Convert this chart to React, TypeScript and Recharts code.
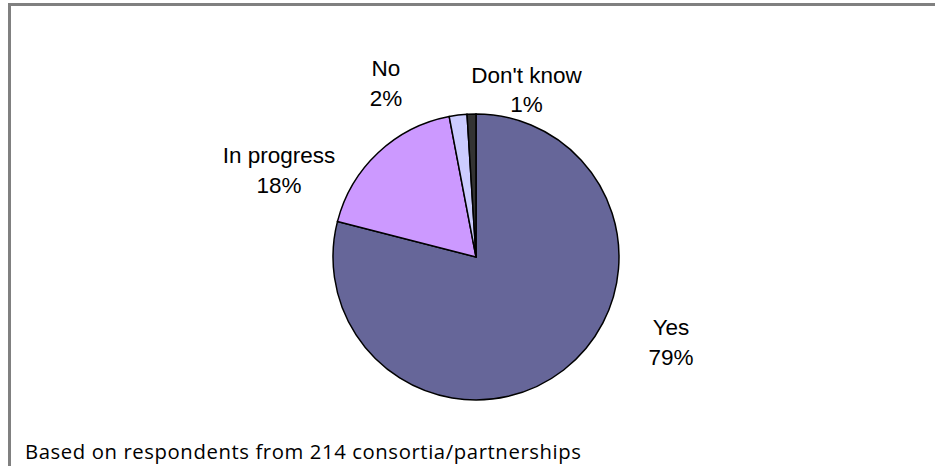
import React from 'react';
import { PieChart, Pie, Cell } from 'recharts';

// Survey answers, clockwise from 12 o'clock
const categories = ['Yes', 'In progress', 'No', "Don't know"];
const shares = [79, 18, 2, 1];
const sliceColors = ['#666699', '#CC99FF', '#CCCCFF', '#333333'];

const data = categories.map((name, i) => ({ name, value: shares[i] }));

// label anchor relative to pie centre (x centre, first-line baseline)
const LABEL_OFFSETS: Record<string, { dx: number; dy: number }> = {
  Yes: { dx: 195, dy: 78 },
  'In progress': { dx: -197, dy: -94 },
  No: { dx: -90, dy: -181 },
  "Don't know": { dx: 50.5, dy: -174.5 },
};

const W = 935;
const H = 466;
const CX = 476;
const CY = 257;
const LABEL_FONT = 22.5;
const LINE_GAP = 29.5;

const renderLabel = (props: any) => {
  const { name, percent } = props;
  const cx = typeof props.cx === 'number' ? props.cx : CX;
  const cy = typeof props.cy === 'number' ? props.cy : CY;
  const off = LABEL_OFFSETS[name] || { dx: 0, dy: 0 };
  const x = cx + off.dx;
  const y = cy + off.dy;
  return (
    <g>
      <text
        x={x}
        y={y}
        textAnchor="middle"
        fill="#000"
        fontSize={LABEL_FONT}
        fontFamily="'Liberation Sans', Arial, sans-serif"
      >
        {name}
      </text>
      <text
        x={x}
        y={y + LINE_GAP}
        textAnchor="middle"
        fill="#000"
        fontSize={LABEL_FONT}
        fontFamily="'Liberation Sans', Arial, sans-serif"
      >
        {`${Math.round(percent * 100)}%`}
      </text>
    </g>
  );
};

export default function App() {
  return (
    <div
      style={{
        position: 'absolute',
        left: 0,
        top: 0,
        width: W,
        height: H,
        background: '#fff',
        overflow: 'hidden',
      }}
    >
      {/* frame: only top and left edges are visible */}
      <div
        style={{
          position: 'absolute',
          left: 8,
          top: 3,
          width: W - 8,
          height: H - 3,
          borderTop: '3px solid #808080',
          borderLeft: '3px solid #808080',
          boxSizing: 'border-box',
        }}
      />
      <div style={{ position: 'absolute', left: 0, top: 0 }}>
        <PieChart width={W} height={H} margin={{ top: 0, right: 0, bottom: 0, left: 0 }}>
          <Pie
            data={data}
            dataKey="value"
            nameKey="name"
            cx={CX}
            cy={CY}
            outerRadius={143}
            startAngle={90}
            endAngle={-270}
            stroke="#000"
            strokeWidth={1.5}
            label={renderLabel}
            labelLine={false}
            isAnimationActive={false}
          >
            {data.map((d, i) => (
              <Cell key={d.name} fill={sliceColors[i]} />
            ))}
          </Pie>
        </PieChart>
      </div>
      <svg
        width={W}
        height={H}
        style={{ position: 'absolute', left: 0, top: 0, pointerEvents: 'none' }}
      >
        <text
          x={25}
          y={459}
          fill="#000"
          fontSize={20.3}
          letterSpacing={0.6}
          fontFamily="'Open Sans', sans-serif"
        >
          Based on respondents from 214 consortia/partnerships
        </text>
      </svg>
    </div>
  );
}
